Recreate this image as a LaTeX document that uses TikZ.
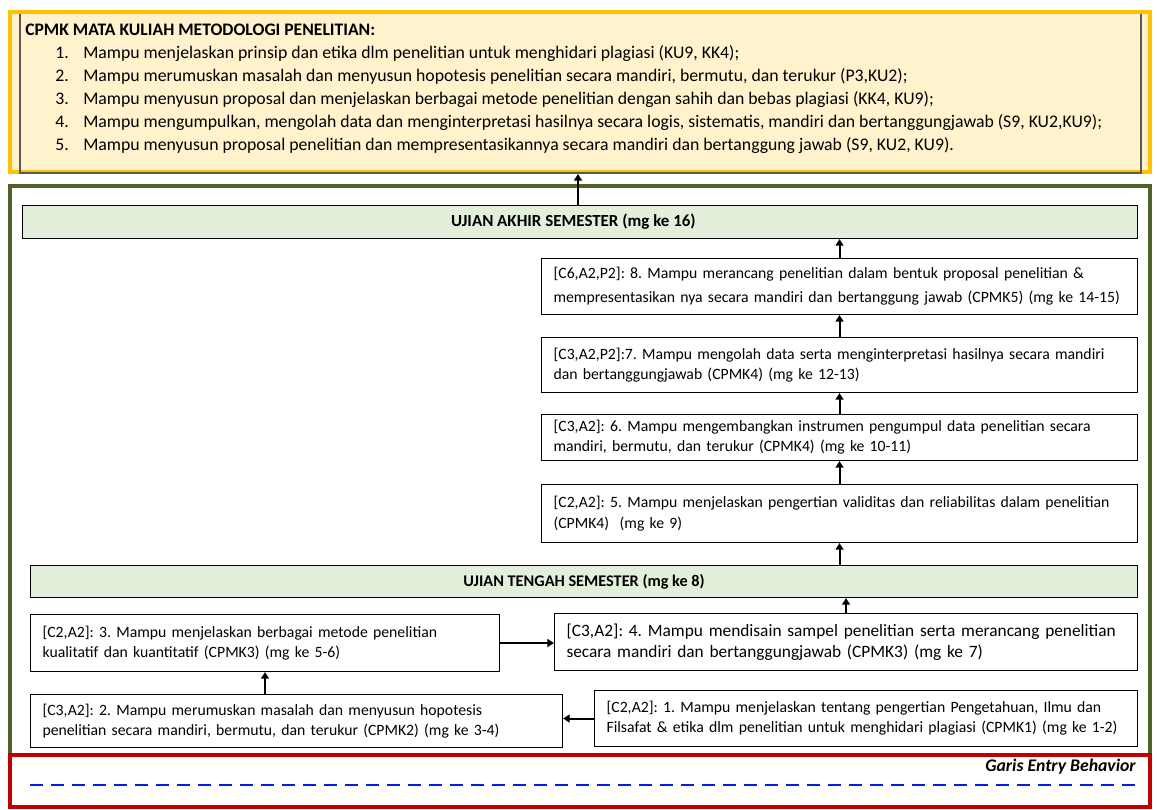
\documentclass[tikz,border=0pt]{standalone}
\usepackage{fontspec}
\setmainfont{Carlito}
\usetikzlibrary{arrows.meta}
\frenchspacing

\definecolor{emas}{RGB}{255,192,0}
\definecolor{krem}{RGB}{255,242,204}
\definecolor{zaitun}{RGB}{79,98,40}
\definecolor{hijaumuda}{RGB}{226,239,218}
\definecolor{merahtua}{RGB}{192,0,0}
\definecolor{garisbiru}{RGB}{0,32,230}

\begin{document}
\begin{tikzpicture}[x=0.75pt, y=-0.75pt, >={Triangle[width=6pt,length=5pt]},
	kotak/.style n args={2}{draw, line width=0.8pt, anchor=north west, inner xsep=9pt, inner ysep=0pt,
		minimum width=#1*0.75pt, minimum height=#2*0.75pt, text width=#1*0.75pt-18pt,
		align=left, execute at begin node={\rightskip=0pt plus 1fil minus 7pt},
		font=\fontsize{11.8}{15.5}\selectfont},
	ujian/.style n args={2}{draw, line width=0.8pt, fill=hijaumuda, anchor=north west, inner sep=0pt,
		minimum width=#1*0.75pt, minimum height=#2*0.75pt, font=\bfseries\fontsize{12.2}{14}\selectfont},
	panah/.style={->, line width=1.5pt}]
	\useasboundingbox (0,0) rectangle (1157,810);

	% kotak CPMK
	\node[draw=emas, line width=3pt, fill=krem, anchor=north west, inner sep=0pt,
		minimum width=1140*0.75pt, minimum height=160*0.75pt] (cpmk) at (8,10) {};
	\draw[gray!70!black, line width=0.8pt] (20,14) -- (20,173) -- (1141,173) -- (1141,14);
	\node[anchor=base west, inner sep=0pt, font=\bfseries\fontsize{13.2}{15}\selectfont] (judul) at (25,36)
		{CPMK MATA KULIAH METODOLOGI PENELITIAN:};
	\foreach \teks [count=\i] in {
		{Mampu menjelaskan prinsip dan etika dlm penelitian untuk menghidari plagiasi (KU9, KK4);},
		{Mampu merumuskan masalah dan menyusun hopotesis penelitian secara mandiri, bermutu, dan terukur (P3,KU2);},
		{Mampu menyusun proposal dan menjelaskan berbagai metode penelitian dengan sahih dan bebas plagiasi (KK4, KU9);},
		{Mampu mengumpulkan, mengolah data dan menginterpretasi hasilnya secara logis, sistematis, mandiri dan bertanggungjawab (S9, KU2,KU9);},
		{Mampu menyusun proposal penelitian dan mempresentasikannya secara mandiri dan bertanggung jawab (S9, KU2, KU9).}}
	{
		\pgfmathsetmacro\yb{58+(\i-1)*23}
		\node[anchor=base west, inner sep=0pt, font=\fontsize{13.3}{15}\selectfont] (nomor\i) at (55,\yb) {\i.};
		\node[anchor=base west, inner sep=0pt, font=\fontsize{13.3}{15}\selectfont] (butir\i) at (83,\yb) {\teks};
	}

	% kotak hijau
	\draw[zaitun, line width=3pt] (10,186) rectangle (1150,757);

	% ujian
	\node[ujian={1115}{33}, font=\bfseries\fontsize{12.7}{15}\selectfont] (uas) at (22,205) {UJIAN AKHIR SEMESTER (mg ke 16)\hspace*{10pt}};
	\node[ujian={1107}{32}] (uts) at (30,565) {UJIAN TENGAH SEMESTER (mg ke 8)};

	% kemampuan akhir
	\node[kotak={596}{56}, font=\fontsize{11.8}{18}\selectfont] (k8) at (541,258)
		{[C6,A2,P2]: 8. Mampu merancang penelitian dalam bentuk proposal penelitian \&\\ mempresentasikan nya secara mandiri dan bertanggung jawab (CPMK5) (mg ke 14-15)};
	\node[kotak={596}{55}] (k7) at (541,337)
		{[C3,A2,P2]:7. Mampu mengolah data serta menginterpretasi hasilnya secara mandiri\\ dan bertanggungjawab (CPMK4) (mg ke 12-13)};
	\node[kotak={596}{46}, font=\fontsize{11.8}{15}\selectfont] (k6) at (541,414)
		{[C3,A2]: 6. Mampu mengembangkan instrumen pengumpul data penelitian secara\\ mandiri, bermutu, dan terukur (CPMK4) (mg ke 10-11)};
	\node[kotak={596}{58}] (k5) at (541,484)
		{[C2,A2]: 5. Mampu menjelaskan pengertian validitas dan reliabilitas dalam penelitian\\ (CPMK4)\ \ (mg ke 9)};
	\node[kotak={583}{57}, font=\fontsize{13}{16}\selectfont] (k4) at (554,613)
		{[C3,A2]: 4. Mampu mendisain sampel penelitian serta merancang penelitian\\ secara mandiri dan bertanggungjawab (CPMK3) (mg ke 7)};
	\node[kotak={469}{57}, font=\fontsize{11.8}{15}\selectfont] (k3) at (30,614)
		{[C2,A2]: 3. Mampu menjelaskan berbagai metode penelitian\\ kualitatif dan kuantitatif (CPMK3) (mg ke 5-6)};
	\node[kotak={532}{53}, font=\fontsize{11.8}{15}\selectfont] (k2) at (30,694)
		{[C3,A2]: 2. Mampu merumuskan masalah dan menyusun hopotesis\\ penelitian secara mandiri, bermutu, dan terukur (CPMK2) (mg ke 3-4)};
	\node[kotak={543}{56}, font=\fontsize{11.8}{15}\selectfont] (k1) at (594,690)
		{[C2,A2]: 1. Mampu menjelaskan tentang pengertian Pengetahuan, Ilmu dan\\ Filsafat \& etika dlm penelitian untuk menghidari plagiasi (CPMK1) (mg ke 1-2)};

	% panah
	\coordinate (atas) at (578,0);
	\draw[panah] (k1.west) -- (k1.west -| k2.east);
	\draw[panah] (k2.north -| k3.south) -- (k3.south);
	\draw[panah] (k3.east) -- (k3.east -| k4.west);
	\draw[panah] (k4.north) -- (uts.south -| k4.north);
	\draw[panah] (uts.north -| k5.south) -- (k5.south);
	\draw[panah] (k5.north) -- (k6.south);
	\draw[panah] (k6.north) -- (k7.south);
	\draw[panah] (k7.north) -- (k8.south);
	\draw[panah] (k8.north) -- (uas.south -| k8.north);
	\draw[panah] (uas.north -| atas) -- (cpmk.south -| atas);

	% garis entry behavior
	\draw[merahtua, line width=3pt, fill=white] (10,755) rectangle (1150,807);
	\node[anchor=east, inner sep=0pt, font=\bfseries\itshape\fontsize{13.3}{15}\selectfont] (entry) at (1136,767) {Garis Entry Behavior};
	\coordinate (garis-a) at (30,785);
	\coordinate (garis-b) at (1135,785);
	\draw[garisbiru, line width=1.5pt, dash pattern=on 9.75pt off 6pt] (garis-a) -- (garis-b);
\end{tikzpicture}
\end{document}
